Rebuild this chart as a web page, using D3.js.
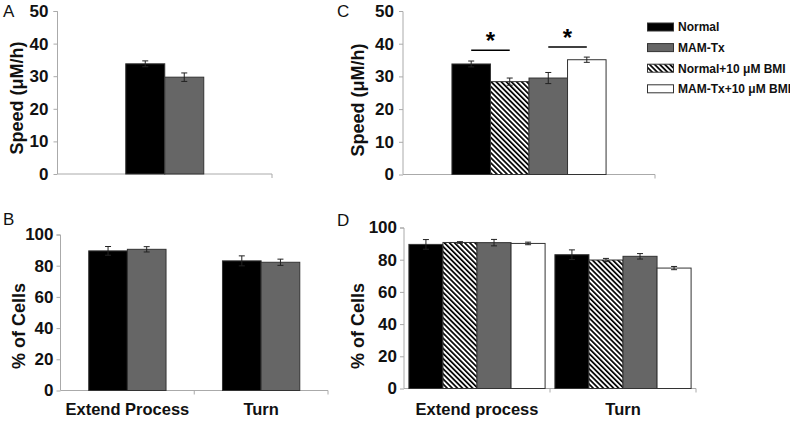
<!DOCTYPE html>
<html><head><meta charset="utf-8">
<script src="https://cdn.jsdelivr.net/npm/d3@7"></script>
<style>body{margin:0;background:#fff}svg{display:block}text{font-family:"Liberation Sans",Arial,sans-serif}</style>
</head><body>
<svg id="c" width="790" height="421"></svg>
<script>
// ---------- DATA ----------
const seriesAB = ["Normal", "MAM-Tx"];
const seriesCD = ["Normal", "Normal+10 μM BMI", "MAM-Tx", "MAM-Tx+10 μM BMI"];
const legendOrder = ["Normal", "MAM-Tx", "Normal+10 μM BMI", "MAM-Tx+10 μM BMI"];

const catsA = ["Speed"];
const speedA = [[33.8, 29.7]];
const speedAErr = [[0.9, 1.3]];

const catsB = ["Extend Process", "Turn"];
const cellsB = [[89.5, 90.5], [83.1, 82.2]];
const cellsBErr = [[2.8, 1.7], [3.2, 2.0]];

const catsC = ["Speed"];
const speedC = [[33.8, 28.4, 29.5, 35.1]];
const speedCErr = [[0.9, 1.1, 1.7, 0.8]];

const catsD = ["Extend process", "Turn"];
const cellsD = [[89.5, 90.7, 90.6, 90.1], [83.1, 79.8, 82.1, 74.8]];
const cellsDErr = [[3.0, 0.5, 2.0, 0.8], [3.0, 1.0, 1.7, 1.0]];

const speedTicks = [0, 10, 20, 30, 40, 50];
const cellTicks = [0, 20, 40, 60, 80, 100];

// significance: pairs of series indices within C, bracket height value
const sigPairs = [[0, 1], [2, 3]];
const sigLevels = [38.0, 39.0];

// ---------- STYLE ----------
const svg = d3.select("#c");
const defs = svg.append("defs");
const pat = defs.append("pattern").attr("id", "hatch").attr("patternUnits", "userSpaceOnUse")
  .attr("width", 3.6).attr("height", 3.6).attr("patternTransform", "rotate(-45)");
pat.append("rect").attr("width", 3.6).attr("height", 3.6).attr("fill", "#fff");
pat.append("rect").attr("x", 0).attr("width", 1.7).attr("height", 3.6).attr("fill", "#000");

const fills = {
  "Normal": "#000",
  "MAM-Tx": "#666",
  "Normal+10 μM BMI": "url(#hatch)",
  "MAM-Tx+10 μM BMI": "#fff"
};
const axisColor = "#aaa";

function panel(o) {
  const g = svg.append("g");
  const y = d3.scaleLinear().domain([0, o.ymax]).range([o.y0, o.y1]);
  const x0 = d3.scaleBand().domain(o.cats).range([o.xl, o.xr]).paddingInner(0).paddingOuter(0);
  const x1 = d3.scaleBand().domain(o.series).range([0, x0.bandwidth()]).paddingInner(0).paddingOuter(o.pOut);

  // y axis
  const ya = d3.axisLeft(y).tickValues(o.ticks).tickSize(4).tickPadding(o.tpad).tickFormat(d3.format("d"));
  const yg = g.append("g").attr("transform", `translate(${o.xl},0)`).call(ya);
  yg.select(".domain").attr("stroke", axisColor).attr("d", `M-4,${o.y1 + 0.5}H0V${o.y0}`);
  yg.selectAll(".tick line").attr("stroke", axisColor);
  yg.selectAll(".tick text").attr("font-size", o.tfs).attr("font-weight", "bold").attr("fill", "#111")
    .attr("font-family", "Liberation Sans, Arial, sans-serif");

  // x axis
  const xg = g.append("g").attr("transform", `translate(0,${o.y0})`);
  xg.append("line").attr("x1", o.xl).attr("x2", o.xr).attr("stroke", axisColor);
  const bounds = o.cats.map(c => x0(c) + x0.bandwidth());
  xg.selectAll("line.tk").data(bounds).enter().append("line").attr("class", "tk")
    .attr("x1", d => d).attr("x2", d => d).attr("y1", 0).attr("y2", 4).attr("stroke", axisColor);
  if (o.catLabels) {
    g.selectAll("text.cat").data(o.cats).enter().append("text").attr("class", "cat")
      .attr("x", d => x0(d) + x0.bandwidth() / 2).attr("y", o.catY)
      .attr("text-anchor", "middle").attr("font-size", 16.5).attr("font-weight", "bold").attr("fill", "#111")
      .text(d => d);
  }

  // bars
  o.cats.forEach((c, ci) => {
    const gg = g.append("g").attr("transform", `translate(${x0(c)},0)`);
    o.series.forEach((s, si) => {
      const v = o.values[ci][si], e = o.errs[ci][si];
      const bx = x1(s), bw = x1.bandwidth();
      gg.append("rect").attr("x", bx).attr("y", y(v)).attr("width", bw).attr("height", y(0) - y(v))
        .attr("fill", fills[s]).attr("stroke", "#333").attr("stroke-width", 1);
      const cx = bx + bw / 2;
      gg.append("line").attr("x1", cx).attr("x2", cx).attr("y1", y(v + e)).attr("y2", y(v - e)).attr("stroke", "#222");
      [v + e, v - e].forEach(t => gg.append("line").attr("x1", cx - 3).attr("x2", cx + 3)
        .attr("y1", y(t)).attr("y2", y(t)).attr("stroke", "#222"));
    });
  });

  // y title
  g.append("text").attr("transform", `translate(${o.titleX},${o.titleY}) rotate(-90)`)
    .attr("text-anchor", "middle").attr("font-size", 18).attr("font-weight", "bold").attr("fill", "#111")
    .text(o.title);
  // panel letter
  g.append("text").attr("x", o.letterX).attr("y", o.letterY).attr("font-size", 17).attr("fill", "#111").text(o.letter);
  return {x0, x1, y, g};
}

panel({cats: catsA, series: seriesAB, values: speedA, errs: speedAErr, ymax: 50, ticks: speedTicks,
  xl: 57.5, xr: 272, y0: 174, y1: 11, pOut: 1.75, tpad: 5, tfs: 17,
  title: "Speed (μM/h)", titleX: 23, titleY: 98, letter: "A", letterX: 3, letterY: 17});

panel({cats: catsB, series: seriesAB, values: cellsB, errs: cellsBErr, ymax: 100, ticks: cellTicks,
  xl: 60.5, xr: 328, y0: 390.5, y1: 234.5, pOut: 0.73, tpad: 3, tfs: 17, catLabels: true, catY: 415,
  title: "% of Cells", titleX: 25, titleY: 326, letter: "B", letterX: 3, letterY: 225});

const pc = panel({cats: catsC, series: seriesCD, values: speedC, errs: speedCErr, ymax: 50, ticks: speedTicks,
  xl: 403, xr: 655, y0: 174.5, y1: 11, pOut: 1.27, tpad: 5, tfs: 17,
  title: "Speed (μM/h)", titleX: 364, titleY: 100, letter: "C", letterX: 337, letterY: 17});

panel({cats: catsD, series: seriesCD, values: cellsD, errs: cellsDErr, ymax: 100, ticks: cellTicks,
  xl: 404, xr: 696, y0: 388.5, y1: 227.5, pOut: 0.144, tpad: 3, tfs: 17, catLabels: true, catY: 415,
  title: "% of Cells", titleX: 364, titleY: 326, letter: "D", letterX: 337, letterY: 226});

// significance brackets in C
sigPairs.forEach((p, i) => {
  const c = catsC[0];
  const a = pc.x0(c) + pc.x1(seriesCD[p[0]]) + pc.x1.bandwidth() / 2;
  const b = pc.x0(c) + pc.x1(seriesCD[p[1]]) + pc.x1.bandwidth() / 2;
  const yy = pc.y(sigLevels[i]);
  pc.g.append("line").attr("x1", a).attr("x2", b).attr("y1", yy).attr("y2", yy).attr("stroke", "#000").attr("stroke-width", 1.6);
  pc.g.append("text").attr("x", (a + b) / 2).attr("y", yy - 1).attr("text-anchor", "middle")
    .attr("font-size", 24).attr("font-weight", "bold").attr("fill", "#000").text("*");
});

// legend
const lg = svg.append("g").attr("transform", "translate(647,27)");
legendOrder.forEach((s, i) => {
  const r = lg.append("g").attr("transform", `translate(0,${i * 20.6})`);
  r.append("rect").attr("x", 0.5).attr("y", -4).attr("width", 26).attr("height", 8)
    .attr("fill", fills[s]).attr("stroke", "#333").attr("stroke-width", 1);
  r.append("text").attr("x", 31).attr("y", 4.3).attr("font-size", 12).attr("font-weight", "bold").attr("fill", "#111").text(s);
});
</script>
</body></html>
